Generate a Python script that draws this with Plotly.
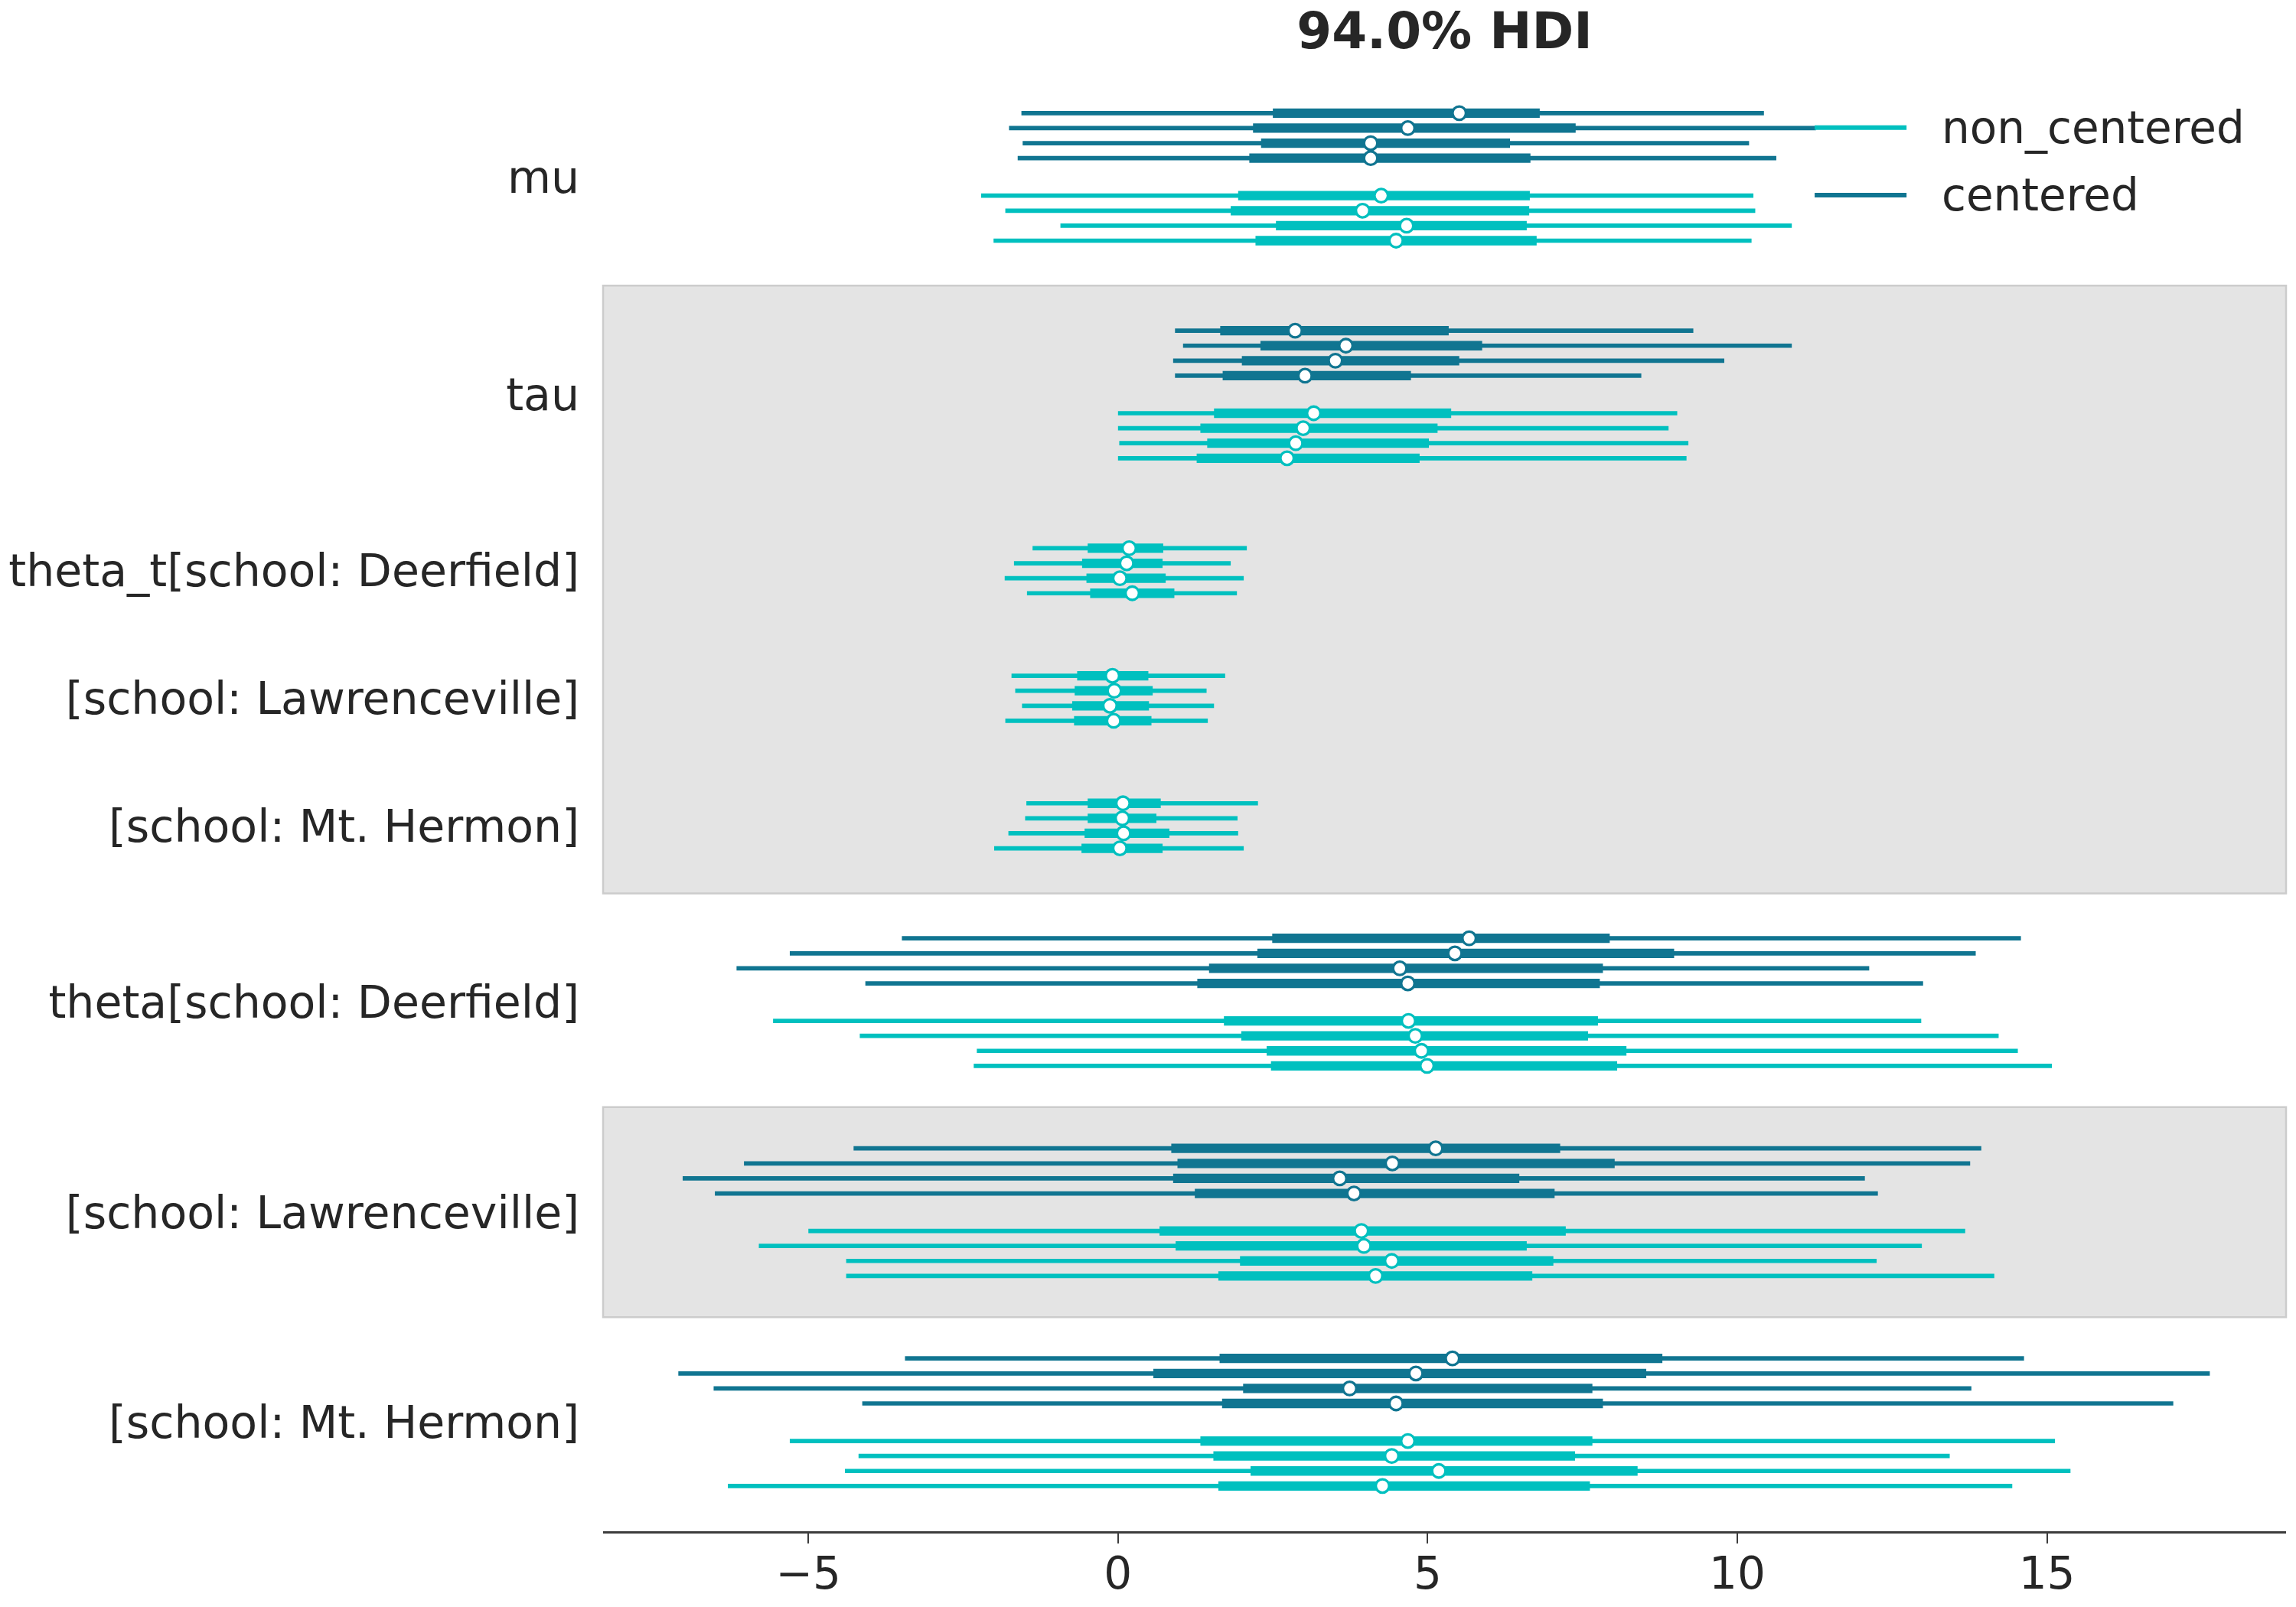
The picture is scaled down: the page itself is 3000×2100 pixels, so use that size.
import plotly.graph_objects as go

# ---------------- data ----------------
# each row: [hdi_low, q25, median, q75, hdi_high] for one chain
MODEL_ORDER = ["centered", "non_centered"]          # top-down order inside a block
LEGEND_ORDER = ["non_centered", "centered"]
MODEL_COLORS = {"centered": "#107591", "non_centered": "#00c0bf"}
X_TICKS = [-5, 0, 5, 10, 15]
TITLE = "94.0% HDI"

mu_centered = [[-1.56, 2.50, 5.51, 6.81, 10.43],
               [-1.76, 2.18, 4.68, 7.39, 11.27],
               [-1.54, 2.31, 4.08, 6.33, 10.19],
               [-1.62, 2.12, 4.08, 6.66, 10.63]]
mu_non_centered = [[-2.21, 1.94, 4.25, 6.65, 10.26],
                   [-1.82, 1.82, 3.95, 6.64, 10.29],
                   [-0.93, 2.55, 4.66, 6.60, 10.88],
                   [-2.01, 2.22, 4.49, 6.76, 10.23]]
tau_centered = [[0.92, 1.65, 2.86, 5.34, 9.29],
                [1.05, 2.30, 3.68, 5.88, 10.88],
                [0.89, 2.00, 3.51, 5.51, 9.79],
                [0.92, 1.69, 3.02, 4.73, 8.45]]
tau_non_centered = [[0.00, 1.55, 3.16, 5.38, 9.03],
                    [0.00, 1.33, 2.99, 5.16, 8.89],
                    [0.02, 1.44, 2.87, 5.02, 9.21],
                    [0.00, 1.27, 2.73, 4.87, 9.18]]
theta_t_deerfield_nc = [[-1.38, -0.49, 0.18, 0.73, 2.08],
                        [-1.68, -0.58, 0.14, 0.72, 1.82],
                        [-1.83, -0.51, 0.03, 0.77, 2.03],
                        [-1.47, -0.45, 0.23, 0.91, 1.92]]
theta_t_lawrenceville_nc = [[-1.72, -0.66, -0.09, 0.49, 1.73],
                            [-1.66, -0.70, -0.06, 0.56, 1.43],
                            [-1.55, -0.74, -0.13, 0.50, 1.55],
                            [-1.82, -0.71, -0.07, 0.54, 1.45]]
theta_t_mt_hermon_nc = [[-1.48, -0.49, 0.08, 0.69, 2.26],
                        [-1.50, -0.49, 0.07, 0.62, 1.93],
                        [-1.77, -0.54, 0.09, 0.83, 1.94],
                        [-2.00, -0.59, 0.03, 0.72, 2.03]]
theta_deerfield_c = [[-3.49, 2.49, 5.67, 7.94, 14.58],
                     [-5.30, 2.25, 5.44, 8.98, 13.85],
                     [-6.16, 1.47, 4.55, 7.83, 12.13],
                     [-4.08, 1.28, 4.68, 7.78, 13.00]]
theta_deerfield_nc = [[-5.57, 1.71, 4.69, 7.75, 12.97],
                      [-4.17, 1.99, 4.80, 7.59, 14.22],
                      [-2.28, 2.40, 4.90, 8.21, 14.53],
                      [-2.33, 2.47, 4.99, 8.06, 15.08]]
theta_lawrenceville_c = [[-4.27, 0.86, 5.13, 7.14, 13.94],
                         [-6.04, 0.96, 4.43, 8.02, 13.76],
                         [-7.03, 0.89, 3.58, 6.48, 12.06],
                         [-6.51, 1.24, 3.81, 7.05, 12.27]]
theta_lawrenceville_nc = [[-5.00, 0.67, 3.93, 7.23, 13.68],
                          [-5.80, 0.93, 3.97, 6.60, 12.98],
                          [-4.39, 1.97, 4.42, 7.03, 12.25],
                          [-4.39, 1.62, 4.16, 6.69, 14.15]]
theta_mt_hermon_c = [[-3.44, 1.64, 5.40, 8.79, 14.63],
                     [-7.10, 0.57, 4.81, 8.53, 17.63],
                     [-6.53, 2.02, 3.74, 7.66, 13.78],
                     [-4.13, 1.68, 4.49, 7.83, 17.04]]
theta_mt_hermon_nc = [[-5.30, 1.33, 4.68, 7.66, 15.13],
                      [-4.19, 1.54, 4.42, 7.38, 13.43],
                      [-4.41, 2.14, 5.18, 8.39, 15.38],
                      [-6.30, 1.62, 4.27, 7.62, 14.44]]

BLOCKS = [
    ("mu", "mu", {"centered": mu_centered, "non_centered": mu_non_centered}),
    ("tau", "tau", {"centered": tau_centered, "non_centered": tau_non_centered}),
    ("theta_t", "theta_t[school: Deerfield]", {"non_centered": theta_t_deerfield_nc}),
    ("theta_t", "[school: Lawrenceville]", {"non_centered": theta_t_lawrenceville_nc}),
    ("theta_t", "[school: Mt. Hermon]", {"non_centered": theta_t_mt_hermon_nc}),
    ("theta", "theta[school: Deerfield]", {"centered": theta_deerfield_c, "non_centered": theta_deerfield_nc}),
    ("theta", "[school: Lawrenceville]", {"centered": theta_lawrenceville_c, "non_centered": theta_lawrenceville_nc}),
    ("theta", "[school: Mt. Hermon]", {"centered": theta_mt_hermon_c, "non_centered": theta_mt_hermon_nc}),
]
SHADED_BLOCKS = [(1, 4), (6, 6)]   # inclusive block index ranges with grey background

# ---------------- layout of rows (forest-plot spacing) ----------------
CHAIN_OFFSET = 0.3
VAR_OFFSET = 1.5 * CHAIN_OFFSET
GROUP_OFFSET = 2 * VAR_OFFSET

rows = []
label_y = []
block_span = []
y = 0.0
prev_var = None
last_y = None
for var, label, models in BLOCKS:
    if prev_var is not None and var != prev_var:
        y = last_y + 2 * GROUP_OFFSET
    ys = []
    for m in MODEL_ORDER:
        if m not in models:
            continue
        for chain_vals in models[m]:
            rows.append((y, m, chain_vals))
            ys.append(y)
            last_y = y
            y += CHAIN_OFFSET
        y += VAR_OFFSET
    y += GROUP_OFFSET
    label_y.append(sum(ys) / len(ys))
    block_span.append((min(ys), max(ys)))
    prev_var = var

y_bottom = last_y + GROUP_OFFSET

fig = go.Figure()

for m in MODEL_ORDER:
    col = MODEL_COLORS[m]
    tx, ty, kx, ky, mx, my = [], [], [], [], [], []
    for yy, mm, v in rows:
        if mm != m:
            continue
        tx += [v[0], v[4], None]; ty += [yy, yy, None]
        kx += [v[1], v[3], None]; ky += [yy, yy, None]
        mx.append(v[2]); my.append(yy)
    fig.add_trace(go.Scatter(x=tx, y=ty, mode="lines", line=dict(color=col, width=5.7),
                             showlegend=False, hoverinfo="skip"))
    fig.add_trace(go.Scatter(x=kx, y=ky, mode="lines", line=dict(color=col, width=12.3),
                             showlegend=False, hoverinfo="skip"))
    fig.add_trace(go.Scatter(x=mx, y=my, mode="markers", name=m,
                             marker=dict(size=17.5, color="white", line=dict(color=col, width=3.3)),
                             showlegend=False))

# shaded bands
for i0, i1 in SHADED_BLOCKS:
    y0 = (block_span[i0 - 1][1] + block_span[i0][0]) / 2
    y1 = (block_span[i1][1] + block_span[i1 + 1][0]) / 2
    fig.add_shape(type="rect", xref="x domain", yref="y", x0=0, x1=1, y0=y0, y1=y1,
                  fillcolor="#e4e4e4", line=dict(color="#cccccc", width=2.5), layer="below")

# legend (drawn manually to match long handles)
LEG_Y = [0.9604, 0.9141]
for name, ly in zip(LEGEND_ORDER, LEG_Y):
    fig.add_shape(type="line", xref="paper", yref="paper", x0=0.7199, x1=0.7745, y0=ly, y1=ly,
                  line=dict(color=MODEL_COLORS[name], width=6))
    fig.add_annotation(xref="paper", yref="paper", x=0.7945, y=ly, text=name, showarrow=False,
                       xanchor="left", yanchor="middle",
                       font=dict(family="DejaVu Sans", size=58, color="#262626"))

fig.update_layout(
    width=3000, height=2100,
    margin=dict(l=788, r=13, t=91, b=99, pad=0, autoexpand=False),
    plot_bgcolor="white", paper_bgcolor="white",
    font=dict(family="DejaVu Sans", size=58, color="#262626"),
    title=dict(text="<b>" + TITLE + "</b>", x=0.5, xref="paper", xanchor="center",
               y=1 - 40 / 2100, yref="container", yanchor="middle",
               font=dict(family="DejaVu Sans", size=66, color="#262626")),
    showlegend=False,
)
fig.update_xaxes(range=[-8.315, 18.861], tickvals=X_TICKS, showgrid=False, zeroline=False,
                 showline=True, linecolor="#3c3c3c", linewidth=2.7, automargin=False,
                 ticks="outside", ticklen=13, tickwidth=2, tickcolor="#3c3c3c",
                 ticklabelstandoff=-10,
                 tickfont=dict(family="DejaVu Sans", size=58, color="#262626"))
fig.update_yaxes(range=[y_bottom + 0.005, -0.87], tickvals=label_y, ticktext=[b[1] for b in BLOCKS],
                 showgrid=False, zeroline=False, showline=False, ticks="", automargin=False,
                 ticklabelstandoff=30,
                 tickfont=dict(family="DejaVu Sans", size=58.5, color="#262626"))

fig.write_html("out.html")
